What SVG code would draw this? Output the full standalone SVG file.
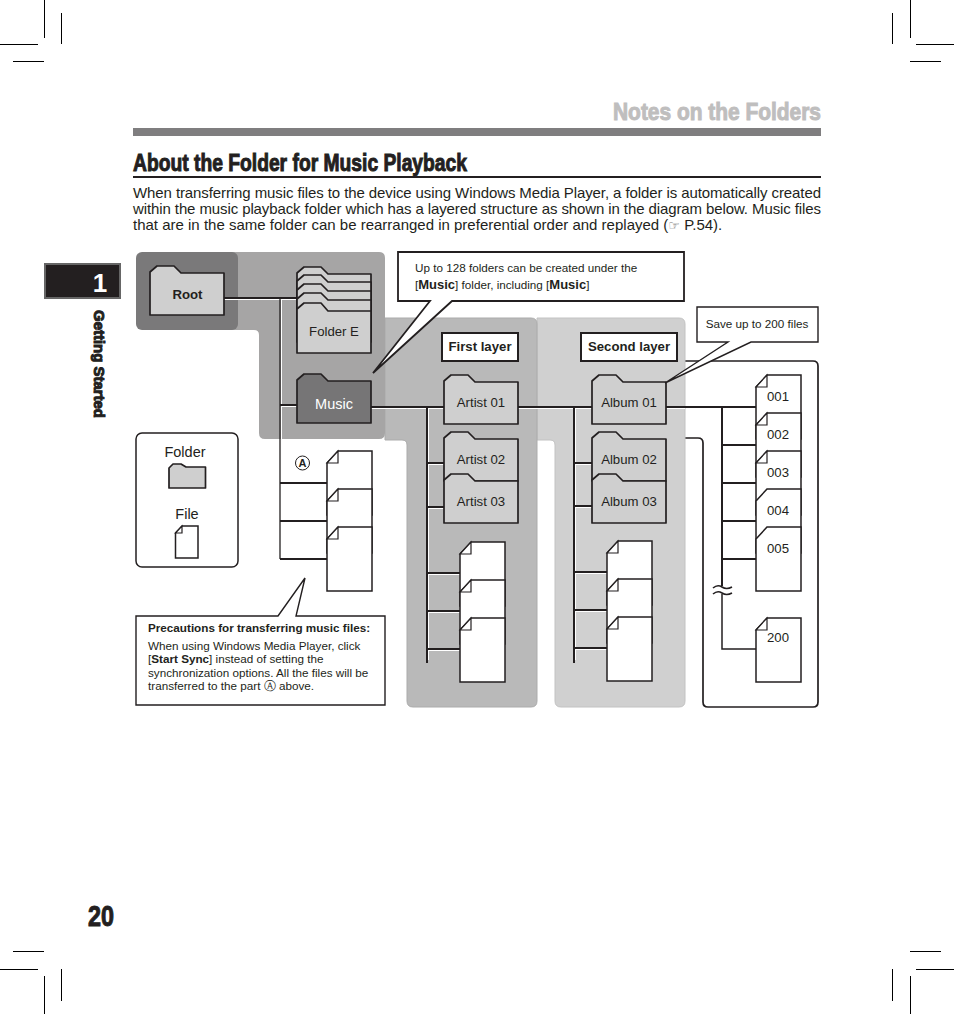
<svg xmlns="http://www.w3.org/2000/svg" width="954" height="1014" viewBox="0 0 954 1014">
<style>
text{font-family:"Liberation Sans",Arial,sans-serif;fill:#231f20}
.head{font-weight:700;stroke-width:1;stroke:#231f20}
.body{font-size:15px}
.b{font-weight:700}
.n{font-size:13.200px;text-anchor:middle}
.c{font-size:11.700px}
.crop{stroke:#000;stroke-width:1;fill:none}
.folder{fill:#cfcfcf;stroke:#231f20;stroke-width:1.7;stroke-linejoin:round}
.file{fill:#fff;stroke:#231f20;stroke-width:1.5;stroke-linejoin:miter}
.fold{fill:#fff;stroke:#231f20;stroke-width:1.2}
.box{fill:#fff;stroke:#231f20;stroke-width:2}
.thin{fill:#fff;stroke:#231f20;stroke-width:1.4}
.ln{stroke:#231f20;stroke-width:2;fill:none}
.hl{stroke:#fff;stroke-width:1;fill:none}
</style>
<defs>
<path id="fld" d="M0 8V6L7 0H24L31 7H74V49H0Z"/>
<path id="doc" d="M0 12L11 0H45V64H0Z"/>
<path id="fd" d="M0 12L11 0V12Z"/>
</defs>

<g id="crop-marks" class="crop">
<path d="M0 44.500H38M44.500 0V38M61.500 13V44M13 61.500H44"/>
<path d="M954 44.500H916M910.500 0V38M892.500 13V44M941 61.500H910"/>
<path d="M0 969.500H38M44.500 1014V976M61.500 1001V969M13 951.500H44"/>
<path d="M954 969.500H916M910.500 1014V976M892.500 1001V969M941 951.500H910"/>
</g>

<g id="page-header">
<text x="613" y="120" class="head" font-size="24" textLength="208" lengthAdjust="spacingAndGlyphs" style="fill:#bfbebe;stroke:#bfbebe">Notes on the Folders</text>
<rect x="133" y="128" width="688" height="8" fill="#7f7e7f"/>
<text x="133" y="171" class="head" font-size="24" textLength="334" lengthAdjust="spacingAndGlyphs">About the Folder for Music Playback</text>
<rect x="133" y="176" width="688" height="2" fill="#231f20"/>
<text x="133" y="198" class="body" textLength="688" lengthAdjust="spacing">When transferring music files to the device using Windows Media Player, a folder is automatically created</text>
<text x="133" y="214" class="body" textLength="688" lengthAdjust="spacing">within the music playback folder which has a layered structure as shown in the diagram below. Music files</text>
<text x="133" y="230" class="body">that are in the same folder can be rearranged in preferential order and replayed (<tspan font-size="13" style="font-family:'DejaVu Sans',sans-serif;fill:#777">☞</tspan> P.54).</text>
</g>

<g id="chapter-tab">
<rect x="45" y="264" width="75" height="34" fill="#231f20" stroke="#666" stroke-width="2"/>
<text x="100" y="292" font-size="26" font-weight="700" text-anchor="middle" style="fill:#fff">1</text>
<text transform="translate(94 310) rotate(90)" class="head" font-size="15.500" textLength="108" lengthAdjust="spacingAndGlyphs">Getting Started</text>
</g>
<text id="page-number" x="88" y="926" class="head" font-size="29" textLength="26" lengthAdjust="spacingAndGlyphs">20</text>

<g id="panels">
<path id="panel-files" d="M685 361H813Q818 361 818 366V702Q818 707 813 707H708Q703 707 703 702V443Q703 438 698 438H685" fill="#fff" stroke="#231f20" stroke-width="1.7"/>
<path id="panel-second" d="M537 318H679Q685 318 685 324V701Q685 707 679 707H561Q555 707 555 701V445Q555 440 550 440H537Z" fill="#d0d0d0" stroke="#c2c2c2"/>
<path id="panel-first" d="M385 318H531Q537 318 537 324V701Q537 707 531 707H413Q407 707 407 701V445Q407 440 402 440H385Z" fill="#b9b9b9" stroke="#ababab"/>
<path id="panel-music" d="M230 252H379Q385 252 385 258V433Q385 439 379 439H265Q259 439 259 433V335Q259 330 254 330H230Z" fill="#a6a5a5"/>
<rect id="panel-root" x="136" y="252" width="102" height="78" rx="6" fill="#7a797a"/>
</g>

<g id="connectors">
<path class="hl" d="M224 299.500H297M281.500 299V439M281 406.500H297M371 408.500H444M518 408.500H592M428.500 408V660M428 464.500H444M428 508.500H444M428 574.500H460M428 612.500H460M428 650.500H460M575.500 408V660M575 464.500H592M575 507.500H592M575 573.500H607M575 611.500H607M575 649.500H607M666 408.500H685"/>
<path class="ln" d="M224 298H297M280 405H297M280 483H327M280 521H327M280 559H327"/>
<path d="M280 298V559" stroke="#231f20" stroke-width="1.300" fill="none"/>
<path class="ln" d="M371 407H444M518 407H592M666 407H756"/>
<path class="ln" d="M427 407V663M427 463H444M427 507H444M427 573H460M427 611H460M427 649H460"/>
<path class="ln" d="M574 407V663M574 463H592M574 506H592M574 572H607M574 610H607M574 648H607"/>
<path class="ln" d="M722 407V586M722 445H756M722 483H756M722 521H756M722 559H756"/>
<path d="M722 594V649H756" stroke="#231f20" stroke-width="1.500" fill="none"/>
<path id="break" d="M713 588Q717.500 584 722 587T732 587M713 594Q717.500 590 722 593T732 593" stroke="#231f20" stroke-width="1.600" fill="none"/>
</g>

<g id="node-root"><use href="#fld" x="150" y="266" class="folder"/><text x="187.500" y="299" class="n b">Root</text></g>

<g id="node-folder-e">
<use href="#fld" x="297" y="267" class="folder"/>
<use href="#fld" x="297" y="275" class="folder"/>
<use href="#fld" x="297" y="284" class="folder"/>
<use href="#fld" x="297" y="293" class="folder"/>
<path class="folder" d="M297 311V309L304 303H321L328 311H371V353H297Z"/>
<text x="334" y="336" class="n">Folder E</text>
</g>
<g id="node-music"><use href="#fld" x="297" y="374" class="folder" style="fill:#767576"/><text x="334" y="409" class="n" style="fill:#fff;font-size:14.500px">Music</text></g>

<g id="node-artist-01"><use href="#fld" x="444" y="375" class="folder"/><text x="481" y="407" class="n">Artist 01</text></g>
<g id="node-artist-02"><use href="#fld" x="444" y="432" class="folder"/><text x="481" y="464" class="n">Artist 02</text></g>
<g id="node-artist-03"><use href="#fld" x="444" y="474" class="folder"/><text x="481" y="506" class="n">Artist 03</text></g>
<g id="node-album-01"><use href="#fld" x="592" y="375" class="folder"/><text x="629" y="407" class="n">Album 01</text></g>
<g id="node-album-02"><use href="#fld" x="592" y="432" class="folder"/><text x="629" y="464" class="n">Album 02</text></g>
<g id="node-album-03"><use href="#fld" x="592" y="474" class="folder"/><text x="629" y="506" class="n">Album 03</text></g>

<g id="node-files-a">
<use href="#doc" x="327" y="451" class="file"/><use href="#fd" x="327" y="451" class="fold"/>
<use href="#doc" x="327" y="489" class="file"/><use href="#fd" x="327" y="489" class="fold"/>
<use href="#doc" x="327" y="527" class="file"/><use href="#fd" x="327" y="527" class="fold"/>
<circle cx="302.500" cy="463" r="7" fill="#fff" stroke="#231f20"/>
<text x="302.500" y="467" font-size="11" font-weight="700" text-anchor="middle">A</text>
</g>
<g id="node-files-artist">
<use href="#doc" x="460" y="542" class="file"/><use href="#fd" x="460" y="542" class="fold"/>
<use href="#doc" x="460" y="580" class="file"/><use href="#fd" x="460" y="580" class="fold"/>
<use href="#doc" x="460" y="618" class="file"/><use href="#fd" x="460" y="618" class="fold"/>
</g>
<g id="node-files-album">
<use href="#doc" x="607" y="541" class="file"/><use href="#fd" x="607" y="541" class="fold"/>
<use href="#doc" x="607" y="579" class="file"/><use href="#fd" x="607" y="579" class="fold"/>
<use href="#doc" x="607" y="617" class="file"/><use href="#fd" x="607" y="617" class="fold"/>
</g>
<g id="node-files-numbered">
<use href="#doc" x="756" y="375" class="file"/><use href="#fd" x="756" y="375" class="fold"/><text x="778" y="401" class="n">001</text>
<use href="#doc" x="756" y="413" class="file"/><use href="#fd" x="756" y="413" class="fold"/><text x="778" y="439" class="n">002</text>
<use href="#doc" x="756" y="451" class="file"/><use href="#fd" x="756" y="451" class="fold"/><text x="778" y="477" class="n">003</text>
<use href="#doc" x="756" y="489" class="file"/><text x="778" y="515" class="n">004</text>
<use href="#doc" x="756" y="527" class="file"/><text x="778" y="553" class="n">005</text>
<use href="#doc" x="756" y="618" class="file"/><use href="#fd" x="756" y="618" class="fold"/><text x="778" y="642" class="n">200</text>
</g>

<g id="label-first"><rect x="442" y="333" width="76" height="28" class="box"/><text x="480" y="351" class="n b">First layer</text></g>
<g id="label-second"><rect x="581" y="333" width="96" height="28" class="box"/><text x="629" y="351" class="n b">Second layer</text></g>

<g id="callout-128">
<path class="box" d="M398 252H684V301H452L373 373L430 301H398Z" style="stroke-width:1.800;stroke-linejoin:miter"/>
<text x="415" y="272" class="c">Up to 128 folders can be created under the</text>
<text x="415" y="289" class="c">[<tspan font-weight="700" font-size="13">Music</tspan>] folder, including [<tspan font-weight="700" font-size="13">Music</tspan>]</text>
</g>
<g id="callout-200">
<path class="thin" d="M697 307H818V342H751L665 383L728 342H697Z"/>
<text x="757" y="328" class="c" text-anchor="middle">Save up to 200 files</text>
</g>
<g id="callout-precautions">
<path class="thin" d="M136 616H278L305 578L296 616H385V705H136Z"/>
<text x="148" y="632" class="c b">Precautions for transferring music files:</text>
<text x="148" y="650" class="c">When using Windows Media Player, click</text>
<text x="148" y="663" class="c">[<tspan font-weight="700">Start Sync</tspan>] instead of setting the</text>
<text x="148" y="677" class="c">synchronization options. All the files will be</text>
<text x="148" y="690" class="c">transferred to the part <tspan style="font-family:'DejaVu Sans',sans-serif" font-size="11.500">Ⓐ</tspan> above.</text>
</g>

<g id="legend">
<rect x="136" y="433" width="102" height="134" rx="6" fill="#fff" stroke="#231f20" stroke-width="1.500"/>
<text x="185" y="457" font-size="14.500" text-anchor="middle">Folder</text>
<path class="folder" d="M169 470V468L173 464H181L186 467H205.500V488H169Z"/>
<text x="187" y="519" font-size="14.500" text-anchor="middle">File</text>
<path class="file" d="M175.500 533L182 526H198V558H175.500Z"/>
<path class="fold" d="M175.500 533L182 526V533Z"/>
</g>
</svg>
